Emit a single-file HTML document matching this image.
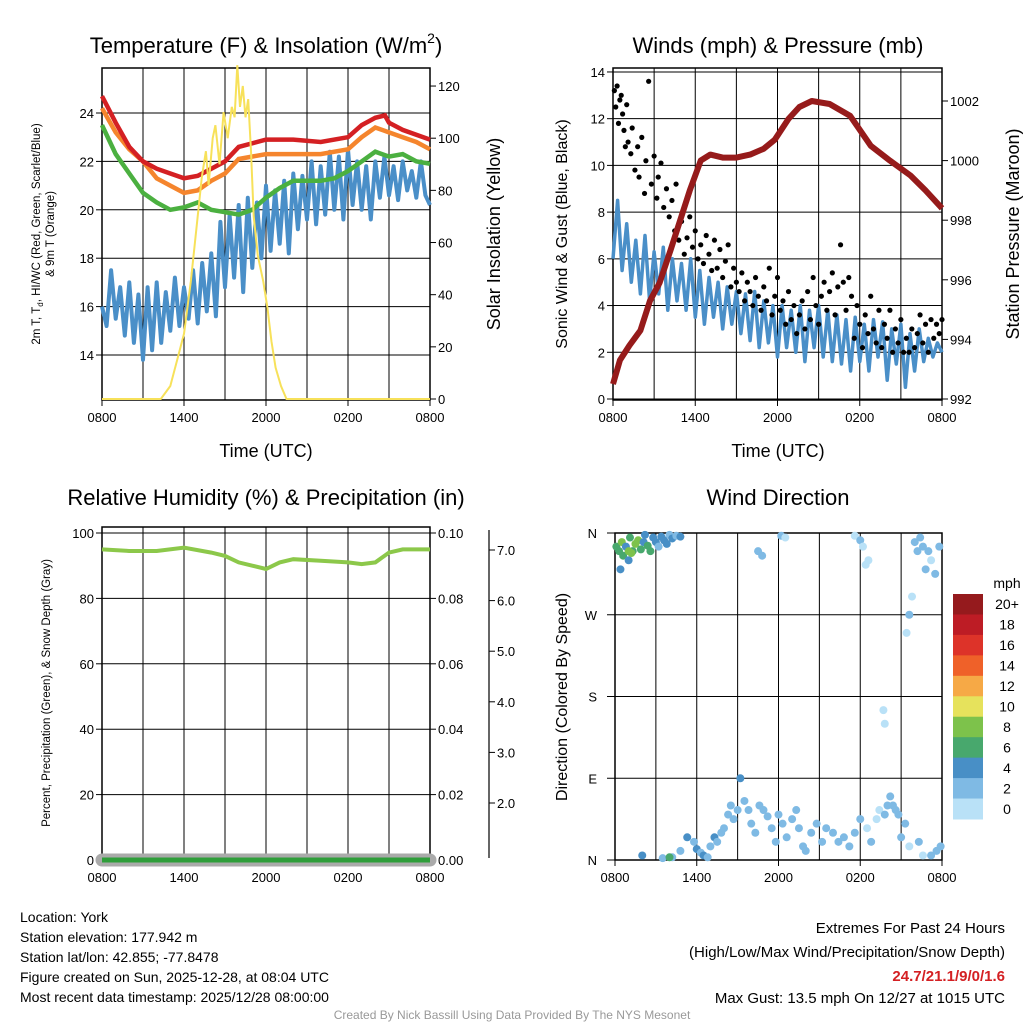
<!DOCTYPE html>
<html><head><meta charset="utf-8">
<style>
html,body{margin:0;padding:0;background:#fff}
svg{display:block;font-family:"Liberation Sans",sans-serif}
</style></head>
<body>
<svg id="c" width="1024" height="1024" xmlns="http://www.w3.org/2000/svg"></svg>
<script>
// ---------- DATA ----------
const timeTicks = ["0800","1400","2000","0200","0800"];
const tRed = [0,1,2,3,4,5,6,7,8,9,10,12,14,16,18,19,20,20.7,21,22,23,24];
const vRed = [24.7,23.6,22.6,22.0,21.7,21.5,21.3,21.4,21.7,22.0,22.6,22.9,22.9,22.8,23.0,23.5,23.8,23.9,23.6,23.3,23.1,22.9];
const tOrange = [0,1,2,3,4,5,6,7,8,9,10,12,14,16,18,19,20,21,22,23,24];
const vOrange = [24.2,23.2,22.5,22.0,21.3,21.0,20.7,20.8,21.2,21.5,22.1,22.3,22.3,22.3,22.5,23.0,23.4,23.2,23.0,22.8,22.5];
const tGreen = [0,1,2,3,4,5,6,7,8,9,10,11,12,13,14,16,17,18,19,20,21,22,23,24];
const vGreen = [23.5,22.3,21.5,20.7,20.3,20.0,20.1,20.3,20.0,19.9,19.8,20.0,20.5,20.9,21.2,21.2,21.3,21.6,22.0,22.4,22.2,22.3,22.0,21.9];
const vWindChill = [16,15.2,17.5,15.5,16.8,14.8,17,14.5,16.5,13.8,16.8,14.2,17,14.5,16.6,15,17.2,15.2,16.8,15.5,17.5,15.3,17.8,15.8,18.2,15.6,19.5,16.8,19.8,17.2,20.2,16.6,20.5,17.6,20.3,18,21,18.3,20.8,18.6,21.2,18.2,21.5,19.2,21.4,19.6,22,19.4,21.8,19.8,22.4,20,22.2,19.6,22.5,20.2,22,20,21.8,19.6,22,20.5,22.2,20.6,21.8,20.4,22,20.8,21.6,20.5,22,20.6,20.2];
const tSolar = [0,4.3,5,5.5,6,6.5,7,7.3,7.6,7.8,8.1,8.3,8.6,8.9,9.2,9.5,9.7,9.9,10.1,10.3,10.5,10.7,10.9,11.1,11.4,11.8,12.1,12.4,12.7,13.1,13.5,24];
const vSolar = [0,0,5,15,25,45,70,85,95,82,100,105,90,110,100,112,108,128,112,120,108,115,95,70,55,45,35,22,12,5,0,0];
const tPress = [0,0.5,1.2,2,2.7,3.4,4.2,4.9,5.6,6.4,7.1,8,9,10,11,11.8,12.8,13.6,14.5,15.8,17.3,18.8,20.2,21.7,22.8,24];
const vPress = [992.5,993.3,993.8,994.3,995.3,995.9,997,998,999,1000,1000.2,1000.1,1000.1,1000.2,1000.4,1000.7,1001.4,1001.8,1002.0,1001.9,1001.5,1000.5,1000.0,999.5,999.0,998.4];
const vWind = [6,8.5,5.5,7.5,5,6.8,4.5,7,4.2,6.3,4.5,6.5,3.8,6,4.2,5.8,3.8,6,3.5,5.5,3.2,5.2,3.5,5,3,4.8,3.2,4.6,2.8,4.5,2.5,4.6,2.2,4.2,2.4,4,1.8,4,2.2,3.8,2,4,1.6,3.8,2.2,4,1.8,3.8,1.6,3.6,1.5,3.4,1.2,3.5,1.6,3.2,1.2,3.4,1.8,3.3,0.8,3,1.5,3.2,0.5,2.8,1.2,3,1.6,2.6,1.8,2.4,2];
const gustT = [0.1,0.2,0.3,0.4,0.5,0.6,0.7,0.8,0.9,1.0,1.1,1.3,1.4,1.6,1.8,1.9,2.1,2.3,2.4,2.6,2.8,3.0,3.2,3.3,3.5,3.7,3.9,4.1,4.3,4.5,4.6,4.8,5.0,5.2,5.4,5.6,5.8,6.0,6.2,6.4,6.6,6.8,7.0,7.2,7.4,7.6,7.8,8.0,8.2,8.4,8.6,8.8,9.0,9.2,9.4,9.6,9.8,10.0,10.2,10.4,10.6,10.8,11.0,11.2,11.4,11.6,11.8,12.0,12.2,12.4,12.6,12.8,13.0,13.2,13.4,13.6,13.8,14.0,14.2,14.4,14.6,14.8,15.0,15.2,15.4,15.6,15.8,16.0,16.2,16.4,16.6,16.8,17.0,17.2,17.4,17.6,17.8,18.0,18.2,18.4,18.6,18.8,19.0,19.2,19.4,19.6,19.8,20.0,20.2,20.4,20.6,20.8,21.0,21.2,21.4,21.6,21.8,22.0,22.2,22.4,22.6,22.8,23.0,23.2,23.4,23.6,23.8,24.0];
const gustV = [13.2,12.5,13.4,11.8,12.8,13.0,12.2,11.5,10.8,12.6,11.0,10.5,11.6,9.8,10.8,9.5,11.2,8.8,10.2,13.6,9.2,10.4,8.6,9.5,10.1,8.2,9.0,7.8,8.5,7.2,9.2,6.8,7.6,6.2,6.9,7.8,6.5,7.2,6.0,6.6,5.8,7.0,6.2,5.5,6.8,5.6,6.4,5.2,5.9,6.6,4.8,5.6,5.0,4.6,5.4,4.2,5.0,4.6,4.0,5.2,4.4,3.8,4.8,4.2,5.6,3.6,4.4,5.2,3.8,4.2,3.2,4.6,3.4,4.0,2.8,3.6,4.2,3.0,4.6,3.4,5.2,4.0,3.2,4.4,5.0,3.8,4.6,5.4,3.6,4.8,6.6,5.0,3.8,5.2,4.4,2.6,4.0,3.2,2.2,3.6,2.8,4.4,3.0,2.4,3.8,2.2,3.2,2.6,3.8,2.0,3.0,2.4,3.4,2.0,2.6,2.0,3.0,2.2,2.8,3.6,2.4,3.2,2.0,3.4,2.6,3.2,2.8,3.4];
const tRH = [0,2,4,6,8,9,10,11,12,13,14,16,18,19,20,21,22,24];
const vRH = [95,94.5,94.5,95.5,94,93,91,90,89,91,92,91.5,91,90.5,91,94,95,95];
const tPrecip = [0,24];
const vPrecip = [0,0];
const dirT = [0.1,0.3,0.5,0.6,0.8,1.0,1.1,1.3,1.5,1.7,1.9,2.1,2.2,2.4,2.6,2.8,3.0,3.2,3.4,3.6,3.8,4.0,4.2,4.5,4.8,1.0,1.2,0.4,
 10.5,10.8,12.2,12.5,17.6,18.0,18.2,18.4,18.6,21.4,21.6,21.8,22.0,22.2,22.4,22.6,22.8,23.0,23.2,23.5,23.8,19.7,19.8,
 2.0,3.5,4.2,4.8,5.3,5.8,6.0,6.3,6.5,6.8,7.0,7.3,7.5,7.8,8.0,8.3,8.5,8.7,9.0,9.2,9.5,9.8,10.0,10.3,10.6,10.9,11.2,11.5,11.8,12.0,12.3,12.6,13.0,13.3,13.5,13.8,14.0,14.4,14.8,15.2,15.5,16.0,16.4,16.8,17.2,17.6,18.0,18.5,18.8,19.2,19.4,19.8,20.0,20.2,20.4,20.6,20.8,21.0,21.3,21.6,22.3,22.6,23.2,23.6,23.9,4.0];
const dirD = [345,340,350,335,345,330,355,340,348,352,342,350,358,346,340,355,350,345,356,352,348,358,354,357,356,340,338,320,
 340,335,357,355,357,352,345,325,330,250,270,290,350,340,355,345,320,340,330,315,345,165,150,
 5,2,3,10,25,20,12,8,5,3,15,25,20,30,35,50,60,45,55,90,65,55,40,30,60,55,48,35,20,50,40,25,45,55,35,15,10,30,40,20,35,30,20,25,15,30,45,35,20,45,55,50,60,70,60,55,50,25,40,15,20,5,5,10,15,3];
const dirS = [6,7,8,7,5,4,6,7,8,9,6,5,4,7,6,5,4,3,4,5,4,3,4,3,4,9,8,4,
 2,2,2,1,1,2,0,1,1,1,2,1,2,2,2,2,3,2,1,2,3,1,1,
 4,3,3,3,4,3,4,3,4,3,3,4,3,3,2,3,3,2,2,4,3,2,2,3,2,2,2,3,2,3,2,3,2,3,2,3,2,2,3,2,2,3,2,2,2,2,2,1,2,1,1,3,3,2,2,3,2,2,2,1,2,1,2,2,2,7];
const cbLabels = ["20+","18","16","14","12","10","8","6","4","2","0"];
const cbColors = ["#951a1d","#bd1c25","#dd3329","#ef6129","#f6a946","#e6e25c","#7dc24b","#48a86d","#488fc6","#7fbae4","#b9e1f7"];

const svg = document.getElementById('c');
const NS = "http://www.w3.org/2000/svg";
function el(tag, attrs, parent){const e=document.createElementNS(NS,tag);for(const k in attrs)e.setAttribute(k,attrs[k]);(parent||svg).appendChild(e);return e;}
function txt(x,y,s,size,anchor,parent,extra){const t=el('text',Object.assign({x:x,y:y,'font-size':size,'text-anchor':anchor||'middle',fill:'#000'},extra||{}),parent);t.textContent=s;return t;}
function pathOf(ts,vs,xf,yf){return ts.map((t,i)=>(i?'L':'M')+xf(t).toFixed(1)+' '+yf(vs[i]).toFixed(1)).join(' ');}
function evenT(n){return Array.from({length:n},(_,i)=>i*24/(n-1));}
function speedColor(s){const i=Math.min(10,Math.floor(s/2));return cbColors[10-i];}

function frame(g,x0,x1,y0,y1,yTicks,yf){
  for(let h=3;h<24;h+=3){const x=x0+h/24*(x1-x0);const l=el('line',{x1:x,x2:x,y1:y0,y2:y1,stroke:'#000','stroke-width':1},g);
    
    }
  yTicks.forEach(v=>{const y=yf(v);el('line',{x1:x0,x2:x1,y1:y,y2:y,stroke:'#000','stroke-width':1},g);});
  el('rect',{x:x0,y:y0,width:x1-x0,height:y1-y0,fill:'none',stroke:'#000','stroke-width':1.5},g);
  timeTicks.forEach((s,i)=>{const x=x0+i*6/24*(x1-x0);el('line',{x1:x,x2:x,y1:y1,y2:y1+6,stroke:'#000'},g);
    const t=txt(x,y1+22,s,13,'middle',g);
    
    });
}
</script>
<script>
(function(){
const g=el('g',{});


const x0=102,x1=430,y0=68,y1=400;
const xf=t=>x0+t/24*(x1-x0);
const yT=v=>355-(v-14)*24.2;
const yS=v=>399-v*2.608;
frame(g,x0,x1,y0,y1,[14,16,18,20,22,24],yT);
[14,16,18,20,22,24].forEach(v=>{el('line',{x1:x0-6,x2:x0,y1:yT(v),y2:yT(v),stroke:'#000'},g);txt(x0-8,yT(v)+5,String(v),13,'end',g);});
[0,20,40,60,80,100,120].forEach(v=>{el('line',{x1:x1,x2:x1+6,y1:yS(v),y2:yS(v),stroke:'#000'},g);txt(x1+8,yS(v)+5,String(v),13,'start',g);});
const wc=el('path',{d:pathOf(evenT(vWindChill.length),vWindChill,xf,yT),fill:'none',stroke:'#4a8fc8','stroke-width':4,'stroke-linejoin':'round'},g);


const gr=el('path',{d:pathOf(tGreen,vGreen,xf,yT),fill:'none',stroke:'#4bb040','stroke-width':4.5},g);


const or=el('path',{d:pathOf(tOrange,vOrange,xf,yT),fill:'none',stroke:'#f5852d','stroke-width':4.5},g);


const rd=el('path',{d:pathOf(tRed,vRed,xf,yT),fill:'none',stroke:'#d42023','stroke-width':4.5},g);


const so=el('path',{d:pathOf(tSolar,vSolar,xf,yS),fill:'none',stroke:'#f7e15a','stroke-width':2},g);


const ti=txt(266,53,'',22,'middle',g);ti.innerHTML='Temperature (F) &amp; Insolation (W/m<tspan font-size="14" dy="-10">2</tspan><tspan dy="10">)</tspan>';


txt(266,457,'Time (UTC)',18,'middle',g);
const yl=el('text',{transform:'translate(40,234) rotate(-90)','font-size':11.5,'text-anchor':'middle'},g);yl.innerHTML='2m T, T<tspan font-size="8" dy="3">d</tspan><tspan dy="-3">, HI/WC (Red, Green, Scarlet/Blue)</tspan>';


el('text',{transform:'translate(54,234) rotate(-90)','font-size':11.5,'text-anchor':'middle'},g).textContent='& 9m T (Orange)';
el('text',{transform:'translate(500,234) rotate(-90)','font-size':18,'text-anchor':'middle'},g).textContent='Solar Insolation (Yellow)';
})();

(function(){
const g=el('g',{});


const x0=613,x1=942,y0=68,y1=400;
const xf=t=>x0+t/24*(x1-x0);
const yW=v=>399-v*23.36;
const yP=v=>399-(v-992)*29.8;
const wt=[0,2,4,6,8,10,12,14];
frame(g,x0,x1,y0,y1,wt,yW);
wt.forEach(v=>{el('line',{x1:x0-6,x2:x0,y1:yW(v),y2:yW(v),stroke:'#000'},g);txt(x0-8,yW(v)+5,String(v),13,'end',g);});
[992,994,996,998,1000,1002].forEach(v=>{el('line',{x1:x1,x2:x1+6,y1:yP(v),y2:yP(v),stroke:'#000'},g);txt(x1+8,yP(v)+5,String(v),13,'start',g);});
const w=el('path',{d:pathOf(evenT(vWind.length),vWind,xf,yW),fill:'none',stroke:'#4a8fc8','stroke-width':3.5,'stroke-linejoin':'round'},g);


gustT.forEach((t,i)=>{const c=el('circle',{cx:xf(t),cy:yW(gustV[i]),r:2.6,fill:'#000'},g);
  
  });
const p=el('path',{d:pathOf(tPress,vPress,xf,yP),fill:'none',stroke:'#961b1b','stroke-width':6,'stroke-linejoin':'round'},g);


txt(778,53,'Winds (mph) & Pressure (mb)',22,'middle',g);
txt(778,457,'Time (UTC)',18,'middle',g);
el('text',{transform:'translate(567,234) rotate(-90)','font-size':16,'text-anchor':'middle'},g).textContent='Sonic Wind & Gust (Blue, Black)';
el('text',{transform:'translate(1019,234) rotate(-90)','font-size':18,'text-anchor':'middle'},g).textContent='Station Pressure (Maroon)';
})();

(function(){
const g=el('g',{});


const x0=102,x1=430,y0=527,y1=860;
const xf=t=>x0+t/24*(x1-x0);
const yR=v=>860-v*3.27;
const yPr=v=>860-v*3270;
const ySn=v=>803-(v-2)*50.6;
const rt=[0,20,40,60,80,100];
frame(g,x0,x1,y0,y1,rt,yR);
rt.forEach(v=>{el('line',{x1:x0-6,x2:x0,y1:yR(v),y2:yR(v),stroke:'#000'},g);txt(x0-8,yR(v)+5,String(v),13,'end',g);});
[0,0.02,0.04,0.06,0.08,0.10].forEach(v=>{el('line',{x1:x1,x2:x1+6,y1:yPr(v),y2:yPr(v),stroke:'#000'},g);txt(x1+8,yPr(v)+5,v.toFixed(2),13,'start',g);});
el('line',{x1:489,x2:489,y1:530,y2:858,stroke:'#000','stroke-width':1.2},g);
[2,3,4,5,6,7].forEach(v=>{el('line',{x1:489,x2:495,y1:ySn(v),y2:ySn(v),stroke:'#000'},g);txt(497,ySn(v)+5,v.toFixed(1),13,'start',g);});
const sd=el('path',{d:pathOf(tPrecip,vPrecip,xf,yPr),fill:'none',stroke:'#aaa','stroke-width':13,'stroke-linecap':'round'},g);


const pr=el('path',{d:pathOf(tPrecip,vPrecip,xf,yPr),fill:'none',stroke:'#2e9e3a','stroke-width':5},g);


const rh=el('path',{d:pathOf(tRH,vRH,xf,yR),fill:'none',stroke:'#8cc84a','stroke-width':4},g);


txt(266,505,'Relative Humidity (%) & Precipitation (in)',22,'middle',g);
el('text',{transform:'translate(50,693) rotate(-90)','font-size':11.5,'text-anchor':'middle'},g).textContent='Percent, Precipitation (Green), & Snow Depth (Gray)';
})();

(function(){
const g=el('g',{});


const x0=615,x1=942,y0=533,y1=860;
const xf=t=>x0+t/24*(x1-x0);
const yD=d=>860-d*0.9083;
const dt=[0,90,180,270,360], dl=['N','E','S','W','N'];
frame(g,x0,x1,y0,y1,dt,yD);
dt.forEach((v,i)=>{el('line',{x1:x0-8,x2:x0,y1:yD(v),y2:yD(v),stroke:'#000'},g);txt(x0-18,yD(v)+5,dl[i],13,'end',g);});
dirT.forEach((t,i)=>{const c=el('circle',{cx:xf(t),cy:yD(dirD[i]),r:4,fill:speedColor(dirS[i])},g);
  
  });
txt(778,505,'Wind Direction',22,'middle',g);
el('text',{transform:'translate(567,697) rotate(-90)','font-size':16,'text-anchor':'middle'},g).textContent='Direction (Colored By Speed)';
txt(1007,588,'mph',14,'middle',g);
const bh=(819-594)/11;
cbColors.forEach((c,i)=>{const r=el('rect',{x:953,y:594+i*bh,width:30,height:bh+0.5,fill:c},g);
  
  
  txt(1007,594+i*bh+bh/2+5,cbLabels[i],14,'middle',g);});
})();

(function(){
const g=el('g',{});


['Location: York','Station elevation: 177.942 m','Station lat/lon: 42.855; -77.8478','Figure created on Sun, 2025-12-28, at 08:04 UTC','Most recent data timestamp: 2025/12/28 08:00:00'].forEach((s,i)=>txt(20,922+i*20,s,14,'start',g));
const g2=el('g',{});


txt(1005,933,'Extremes For Past 24 Hours',15,'end',g2);
txt(1005,957,'(High/Low/Max Wind/Precipitation/Snow Depth)',15,'end',g2);
txt(1005,981,'24.7/21.1/9/0/1.6',15,'end',g2,{fill:'#d42023','font-weight':'bold'});
txt(1005,1003,'Max Gust: 13.5 mph On 12/27 at 1015 UTC',15,'end',g2);
txt(512,1019,'Created By Nick Bassill Using Data Provided By The NYS Mesonet',12,'middle',svg,{fill:'#999'});
})();
</script>
</body></html>
